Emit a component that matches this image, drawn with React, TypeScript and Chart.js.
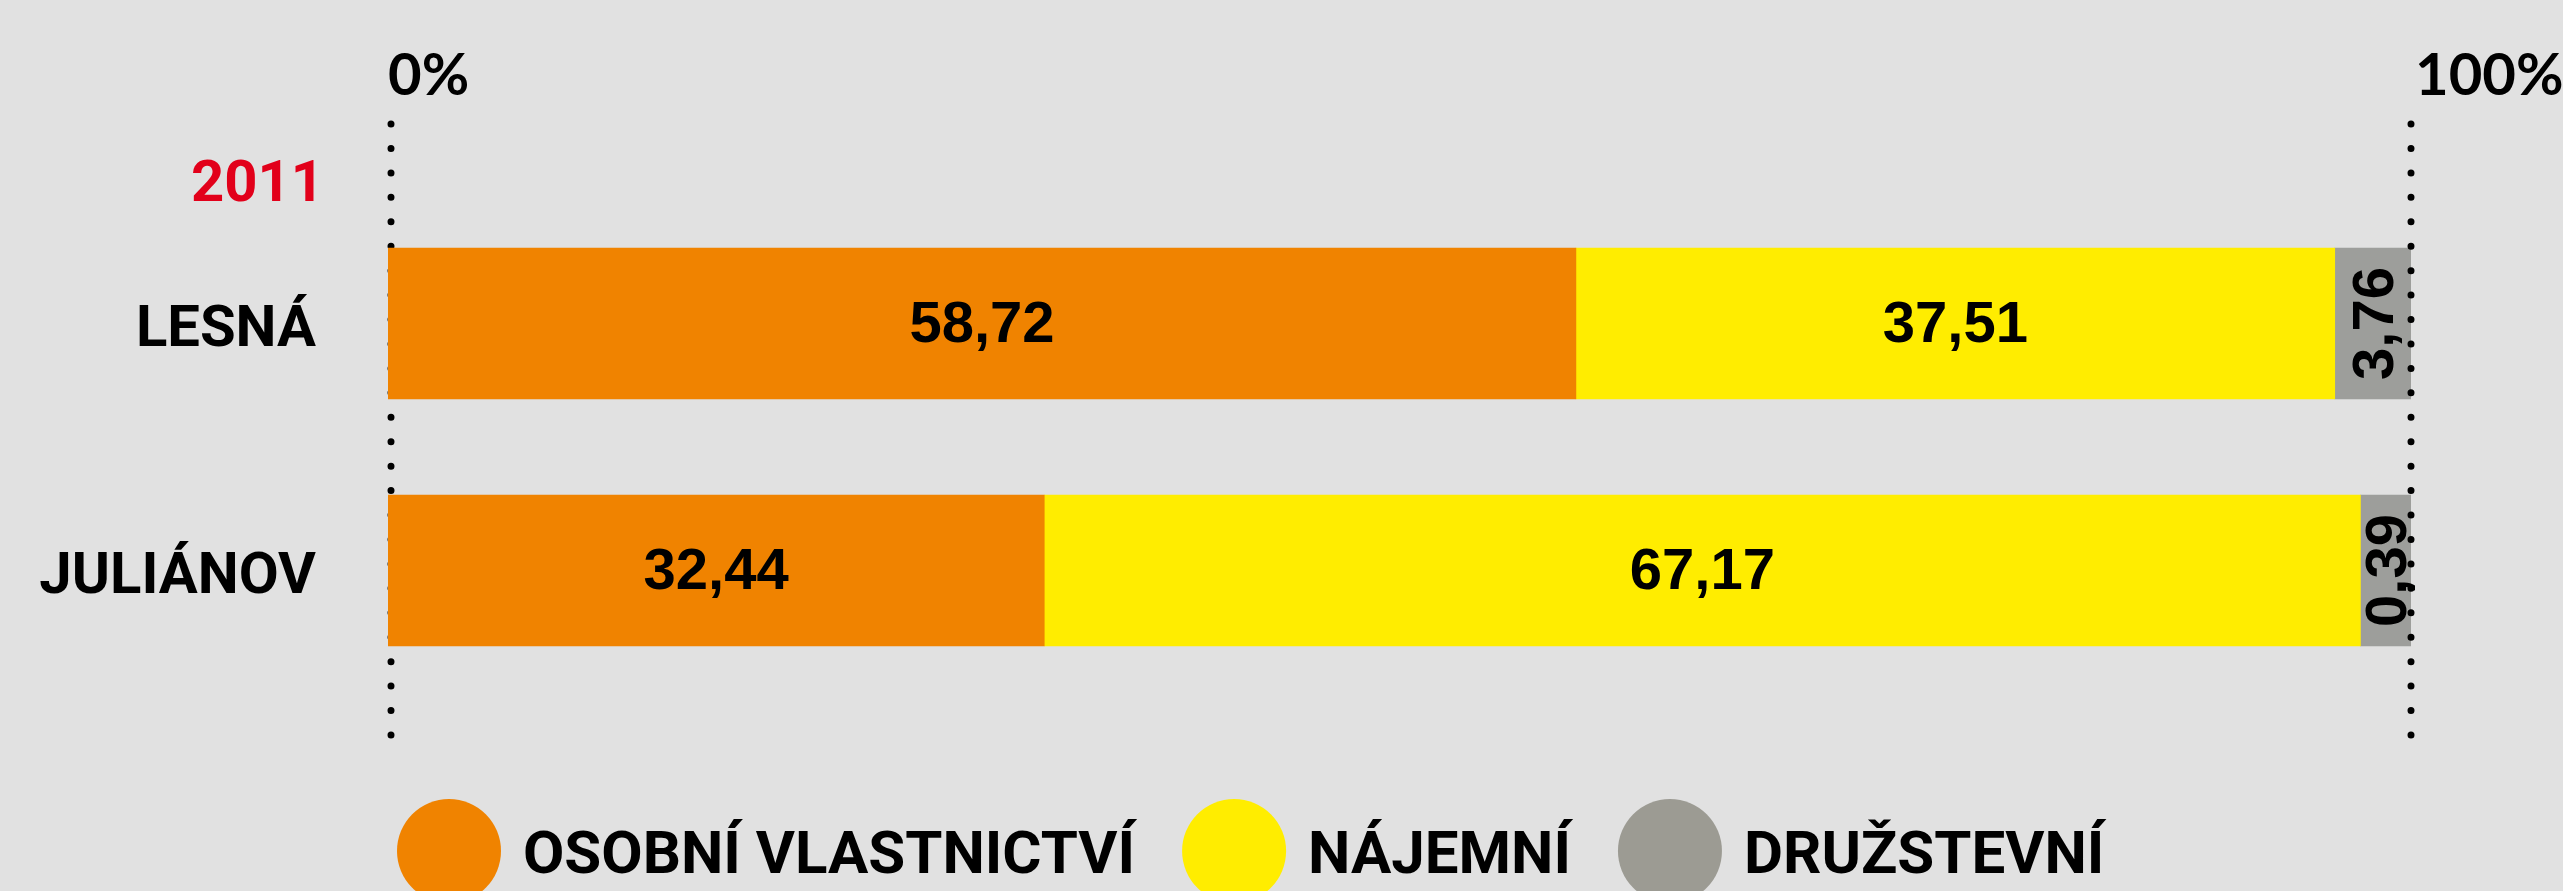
import React, { useEffect, useRef } from 'react';
import { Chart, registerables } from 'chart.js';

Chart.register(...registerables);

// ---------- data ----------
const YEAR_LABEL = '2011';
const categories = ['LESNÁ', 'JULIÁNOV'];
const seriesNames = ['OSOBNÍ VLASTNICTVÍ', 'NÁJEMNÍ', 'DRUŽSTEVNÍ'];
const osobniValues = [58.72, 32.44];
const najemniValues = [37.51, 67.17];
const druzstevniValues = [3.76, 0.39];
const axisTickValues = [0, 100];
const axisTickLabels = ['0%', '100%'];

// ---------- styles ----------
const BG = '#e1e1e1';
const seriesColors = ['#f08300', '#ffed00', '#9d9e9b'];
const legendColors = ['#f08300', '#ffed00', '#9c9b93'];
const YEAR_COLOR = '#e2001a';
const LABEL_FONT = 'Roboto';
const VALUE_FONT = '"Liberation Sans", Arial, sans-serif';
const AXIS_FONT = 'Lato';
// smallest share (in %) a segment is drawn with, so its label stays legible
const MIN_SHOWN = 2.5;

const fmt = (v: number) => v.toFixed(2).replace('.', ',');

// drawn lengths: tiny segments are widened to MIN_SHOWN, taken from the largest segment in the row
function shownRows(): number[][] {
  const rows = categories.map((_, i) => [osobniValues[i], najemniValues[i], druzstevniValues[i]]);
  return rows.map((row) => {
    const out = row.slice();
    let extra = 0;
    out.forEach((v, k) => {
      if (v < MIN_SHOWN) {
        extra += MIN_SHOWN - v;
        out[k] = MIN_SHOWN;
      }
    });
    if (extra > 0) {
      let big = 0;
      out.forEach((v, k) => {
        if (v > out[big]) big = k;
      });
      out[big] -= extra;
    }
    return out;
  });
}

const rawSeries = [osobniValues, najemniValues, druzstevniValues];

function drawDots(ctx: CanvasRenderingContext2D, x: number, area: any) {
  ctx.save();
  ctx.strokeStyle = '#000';
  ctx.lineWidth = 7;
  ctx.lineCap = 'round';
  ctx.setLineDash([0, 24.44]);
  ctx.beginPath();
  ctx.moveTo(x, area.top - 76);
  ctx.lineTo(x, area.bottom + 42);
  ctx.stroke();
  ctx.restore();
}

const overlayPlugin = {
  id: 'overlay',
  beforeDatasetsDraw(chart: any) {
    const ctx = chart.ctx;
    const xs = chart.scales.x;
    const x0 = xs.getPixelForValue(axisTickValues[0]) + 3;
    drawDots(ctx, x0, chart.chartArea);
  },
  afterDatasetsDraw(chart: any) {
    const ctx = chart.ctx;
    const xs = chart.scales.x;
    const x1 = xs.getPixelForValue(axisTickValues[1]);
    drawDots(ctx, x1, chart.chartArea);

    // value labels
    ctx.save();
    ctx.fillStyle = '#000';
    ctx.font = `bold 58px ${VALUE_FONT}`;
    ctx.textAlign = 'center';
    ctx.textBaseline = 'middle';
    chart.data.datasets.forEach((ds: any, di: number) => {
      const meta = chart.getDatasetMeta(di);
      meta.data.forEach((bar: any, i: number) => {
        const txt = fmt(rawSeries[di][i]);
        const cx = (bar.x + bar.base) / 2;
        if (di === 2) {
          ctx.save();
          ctx.translate(cx + 2, bar.y);
          ctx.rotate(-Math.PI / 2);
          ctx.fillText(txt, 0, 2);
          ctx.restore();
        } else {
          ctx.fillText(txt, cx, bar.y + 2);
        }
      });
    });
    ctx.restore();
  },
  afterDraw(chart: any) {
    const ctx = chart.ctx;
    const xs = chart.scales.x;
    const ys = chart.scales.y;
    const area = chart.chartArea;
    ctx.save();
    // axis labels above
    ctx.fillStyle = '#000';
    ctx.font = `bold 58px ${AXIS_FONT}`;
    ctx.textAlign = 'left';
    ctx.textBaseline = 'alphabetic';
    ctx.fillText(axisTickLabels[0], xs.getPixelForValue(axisTickValues[0]), 95);
    ctx.fillText(axisTickLabels[1], xs.getPixelForValue(axisTickValues[1]) + 4, 95);

    // category labels
    ctx.font = `bold 58px ${LABEL_FONT}`;
    ctx.textAlign = 'right';
    categories.forEach((c, i) => {
      ctx.fillText(c, area.left - 72, ys.getPixelForValue(i) + 22);
    });

    // year label
    ctx.fillStyle = YEAR_COLOR;
    ctx.fillText(YEAR_LABEL, area.left - 64, 201);

    // legend
    const r = 52;
    const cy = 851;
    let x = 397;
    ctx.font = `bold 60px ${LABEL_FONT}`;
    ctx.textAlign = 'left';
    seriesNames.forEach((name, k) => {
      ctx.fillStyle = legendColors[k];
      ctx.beginPath();
      ctx.arc(x + r, cy, r, 0, Math.PI * 2);
      ctx.fill();
      ctx.fillStyle = '#000';
      const tx = x + 2 * r + 22;
      ctx.fillText(name, tx, cy + 22);
      x = tx + ctx.measureText(name).width + 47;
    });
    ctx.restore();
  },
};

export default function App() {
  const ref = useRef<HTMLCanvasElement | null>(null);

  useEffect(() => {
    document.body.style.margin = '0';
    document.body.style.background = BG;
    const rows = shownRows();
    const chart = new Chart(ref.current as HTMLCanvasElement, {
      type: 'bar',
      data: {
        labels: categories,
        datasets: seriesNames.map((name, k) => ({
          label: name,
          data: rows.map((row) => row[k]),
          backgroundColor: seriesColors[k],
          borderWidth: 0,
          barThickness: 151,
        })),
      },
      options: {
        indexAxis: 'y',
        animation: false,
        responsive: false,
        maintainAspectRatio: false,
        layout: { padding: { top: 200, bottom: 197, right: 152, left: 0 } },
        plugins: {
          legend: { display: false },
          tooltip: { enabled: false },
        },
        scales: {
          x: {
            stacked: true,
            min: axisTickValues[0],
            max: axisTickValues[1],
            display: false,
          },
          y: {
            stacked: true,
            grid: { display: false, drawTicks: false },
            border: { display: false },
            ticks: { display: false },
            afterFit: (s: any) => {
              s.width = 388;
            },
          },
        },
      },
      plugins: [overlayPlugin],
    });
    return () => chart.destroy();
  }, []);

  return (
    <div style={{ width: 2563, height: 891, background: BG, overflow: 'hidden' }}>
      <canvas ref={ref} width={2563} height={891} style={{ display: 'block', width: 2563, height: 891 }} />
    </div>
  );
}
